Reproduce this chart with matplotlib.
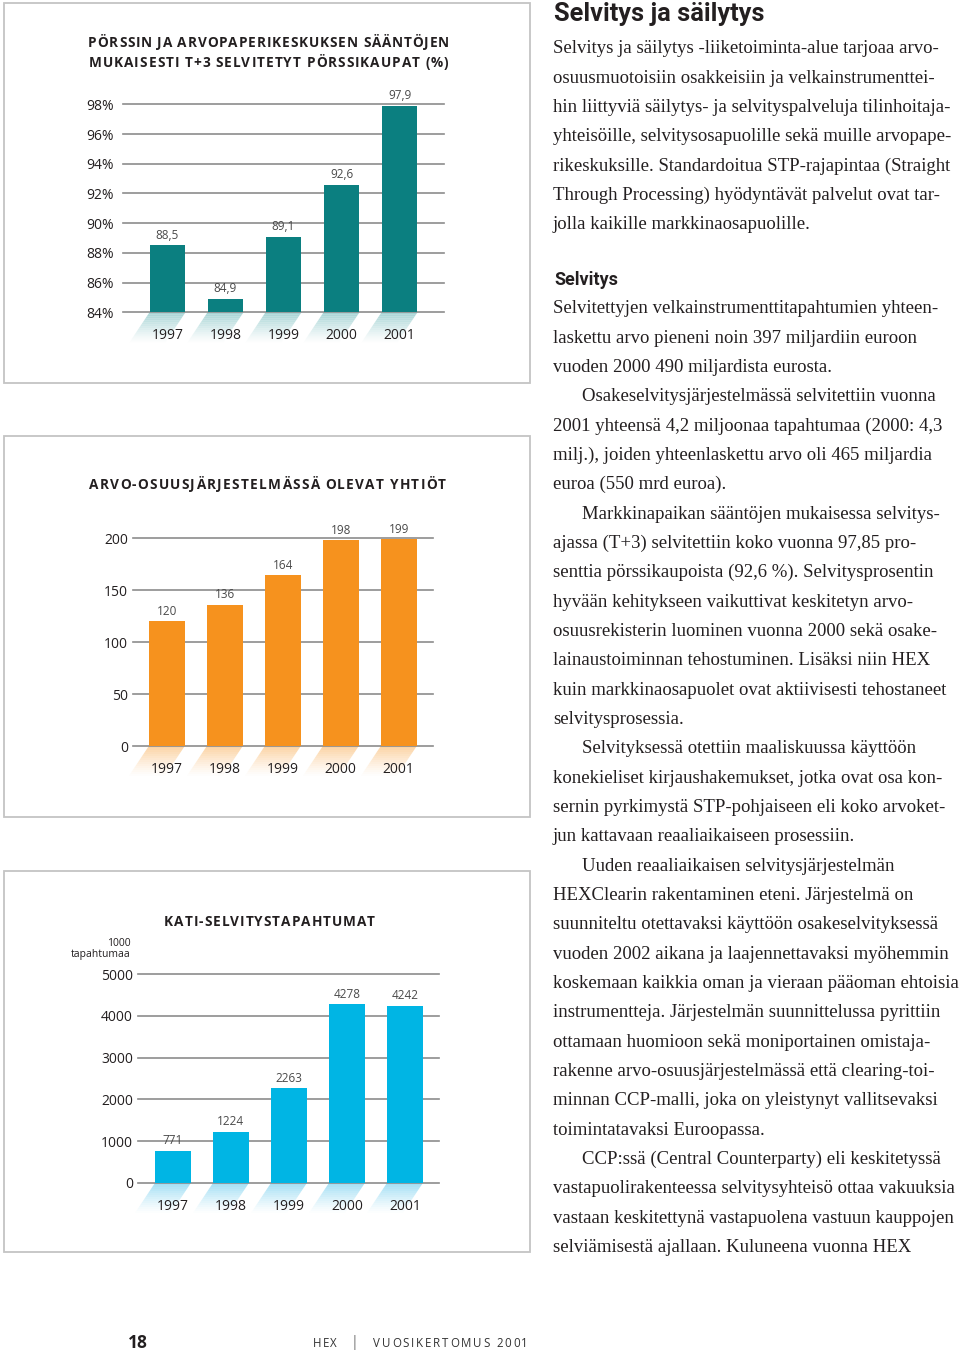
#!/usr/bin/env python3

# sivu 18: kolme pylväskaaviota vasemmalla, leipäteksti oikealla

import numpy as np
import matplotlib
matplotlib.use('Agg')
import matplotlib.pyplot as plt
from matplotlib.patches import Rectangle, Polygon
from matplotlib.font_manager import FontProperties

W, H = 960, 1350

# data
years = ['1997', '1998', '1999', '2000', '2001']

t3_values = [88.5, 84.9, 89.1, 92.6, 97.9]
t3_labels = ['88,5', '84,9', '89,1', '92,6', '97,9']
t3_ticks = [84, 86, 88, 90, 92, 94, 96, 98]
t3_ticklabels = ['84%', '86%', '88%', '90%', '92%', '94%', '96%', '98%']

companies = [120, 136, 164, 198, 199]
companies_labels = ['120', '136', '164', '198', '199']
companies_ticks = [0, 50, 100, 150, 200]

kati = [771, 1224, 2263, 4278, 4242]
kati_labels = ['771', '1224', '2263', '4278', '4242']
kati_ticks = [0, 1000, 2000, 3000, 4000, 5000]

title_1 = ['PÖRSSIN JA ARVOPAPERIKESKUKSEN SÄÄNTÖJEN',
           'MUKAISESTI T+3 SELVITETYT PÖRSSIKAUPAT (%)']
title_2 = 'ARVO-OSUUSJÄRJESTELMÄSSÄ OLEVAT YHTIÖT'
title_3 = 'KATI-SELVITYSTAPAHTUMAT'

heading = 'Selvitys ja säilytys'
intro_lines = [
    'Selvitys ja säilytys -liiketoiminta-alue tarjoaa arvo-',
    'osuusmuotoisiin osakkeisiin ja velkainstrumenttei-',
    'hin liittyviä säilytys- ja selvityspalveluja tilinhoitaja-',
    'yhteisöille, selvitysosapuolille sekä muille arvopape-',
    'rikeskuksille. Standardoitua STP-rajapintaa (Straight',
    'Through Processing) hyödyntävät palvelut ovat tar-',
    'jolla kaikille markkinaosapuolille.',
]
subheading = 'Selvitys'
paragraphs = [
    ['Selvitettyjen velkainstrumenttitapahtumien yhteen-',
     'laskettu arvo pieneni noin 397 miljardiin euroon',
     'vuoden 2000 490 miljardista eurosta.'],
    ['Osakeselvitysjärjestelmässä selvitettiin vuonna',
     '2001 yhteensä 4,2 miljoonaa tapahtumaa (2000: 4,3',
     'milj.), joiden yhteenlaskettu arvo oli 465 miljardia',
     'euroa (550 mrd euroa).'],
    ['Markkinapaikan sääntöjen mukaisessa selvitys-',
     'ajassa (T+3) selvitettiin koko vuonna 97,85 pro-',
     'senttia pörssikaupoista (92,6 %). Selvitysprosentin',
     'hyvään kehitykseen vaikuttivat keskitetyn arvo-',
     'osuusrekisterin luominen vuonna 2000 sekä osake-',
     'lainaustoiminnan tehostuminen. Lisäksi niin HEX',
     'kuin markkinaosapuolet ovat aktiivisesti tehostaneet',
     'selvitysprosessia.'],
    ['Selvityksessä otettiin maaliskuussa käyttöön',
     'konekieliset kirjaushakemukset, jotka ovat osa kon-',
     'sernin pyrkimystä STP-pohjaiseen eli koko arvoket-',
     'jun kattavaan reaaliaikaiseen prosessiin.'],
    ['Uuden reaaliaikaisen selvitysjärjestelmän',
     'HEXClearin rakentaminen eteni. Järjestelmä on',
     'suunniteltu otettavaksi käyttöön osakeselvityksessä',
     'vuoden 2002 aikana ja laajennettavaksi myöhemmin',
     'koskemaan kaikkia oman ja vieraan pääoman ehtoisia',
     'instrumentteja. Järjestelmän suunnittelussa pyrittiin',
     'ottamaan huomioon sekä moniportainen omistaja-',
     'rakenne arvo-osuusjärjestelmässä että clearing-toi-',
     'minnan CCP-malli, joka on yleistynyt vallitsevaksi',
     'toimintatavaksi Euroopassa.'],
    ['CCP:ssä (Central Counterparty) eli keskitetyssä',
     'vastapuolirakenteessa selvitysyhteisö ottaa vakuuksia',
     'vastaan keskitettynä vastapuolena vastuun kauppojen',
     'selviämisestä ajallaan. Kuluneena vuonna HEX'],
]

# colours
TEAL, TEAL_SHADE = '#0b7f80', '#8fc9ca'
ORANGE, ORANGE_SHADE = '#f6921e', '#fbc98e'
CYAN, CYAN_SHADE = '#00b5e4', '#8fd8f2'
GRID = '#8c8c8c'
FRAME = '#c4c4c4'
TXT = '#231f20'

SANS = ['Open Sans', 'DejaVu Sans']
SERIF = ['Liberation Serif', 'DejaVu Serif']

fig = plt.figure(figsize=(W / 100, H / 100), dpi=100)
renderer = fig.canvas.get_renderer()


def px_axes(x0, y0, x1, y1):
    return fig.add_axes([x0 / W, 1 - y1 / H, (x1 - x0) / W, (y1 - y0) / H])


def ftext(x, y, s, **kw):
    return fig.text(x / W, 1 - y / H, s, **kw)


def frame(x0, y0, x1, y1):
    fig.patches.append(Rectangle((x0 / W, 1 - y1 / H), (x1 - x0) / W, (y1 - y0) / H,
                                 transform=fig.transFigure, fill=False,
                                 edgecolor=FRAME, lw=1.3))


def spaced_text(x, y, s, width, size, weight='bold', color=TXT, ha='center'):
    # harvennettu teksti: kirjain kerrallaan, väli venytetään annettuun leveyteen
    prop = FontProperties(family=SANS, size=size, weight=weight)
    base = renderer.get_text_width_height_descent('||', prop, ismath=False)[0]
    adv = [renderer.get_text_width_height_descent('|' + c + '|', prop, ismath=False)[0] - base
           for c in s]
    gap = (width - sum(adv)) / (len(s) - 1)
    pos = x - width / 2 if ha == 'center' else x
    for c, a in zip(s, adv):
        ftext(pos, y, c, ha='left', va='baseline', fontproperties=prop, color=color)
        pos += a + gap


def bar_chart(ax, values, labels, ticks, ticklabels, color, shade, xlim, tick_pad, height_px):
    x = np.arange(len(years))
    ymin, ymax = ticks[0], ticks[-1]
    ax.set_xlim(*xlim)
    ax.set_ylim(ymin, ymax)
    for t in ticks:
        ax.axhline(t, color=GRID, lw=1.2, zorder=1, clip_on=False)
    ax.bar(x, np.array(values) - ymin, bottom=ymin, width=0.62, color=color, zorder=3)

    ax.set_yticks(ticks, ticklabels)
    ax.tick_params(axis='y', length=0, pad=tick_pad, labelsize=10, labelcolor=TXT)
    for lab in ax.get_yticklabels():
        lab.set_family(SANS)
    ax.set_xticks([])
    for s in ax.spines.values():
        s.set_visible(False)
    ax.patch.set_alpha(0)

    # arvot pylväiden päällä
    for xi, v, lab in zip(x, values, labels):
        ax.annotate(lab, (xi, v), xytext=(0, 2.5), textcoords='offset points',
                    ha='center', va='bottom', fontsize=8.5, color='#4a4a4a', family=SANS)

    # vinot varjot pylväiden alla + vuosiluvut
    unit = (ymax - ymin) / height_px
    depth, shift, n = 30, 20 / 58, 15
    for xi, yr in zip(x, years):
        for k in range(n):
            d0, d1 = k / n, (k + 1) / n
            pts = [(xi - 0.31 - shift * d0, ymin - depth * d0 * unit),
                   (xi + 0.31 - shift * d0, ymin - depth * d0 * unit),
                   (xi + 0.31 - shift * d1, ymin - depth * d1 * unit),
                   (xi - 0.31 - shift * d1, ymin - depth * d1 * unit)]
            ax.add_patch(Polygon(pts, closed=True, color=shade, lw=0,
                                 alpha=0.8 * (1 - d0) ** 1.3, clip_on=False, zorder=0))
        ax.annotate(yr, (xi, ymin), xytext=(0, -16.6), textcoords='offset points',
                    ha='center', va='center', fontsize=10, color=TXT, family=SANS)


# ---- kaavio 1 ----
frame(4, 3, 530, 383)
spaced_text(268.5, 47, title_1[0], 361, 9.8)
spaced_text(268.5, 67, title_1[1], 360, 9.8)
ax1 = px_axes(123, 104.3, 444, 312.3)
bar_chart(ax1, t3_values, t3_labels, t3_ticks, t3_ticklabels, TEAL, TEAL_SHADE,
          (-0.767, 4.767), 6.5, 208)

# ---- kaavio 2 ----
frame(4, 436, 530, 817)
spaced_text(267.5, 489, title_2, 357, 9.8)
ax2 = px_axes(133, 538, 433, 746)
bar_chart(ax2, companies, companies_labels, companies_ticks,
          [str(t) for t in companies_ticks], ORANGE, ORANGE_SHADE,
          (-0.583, 4.590), 3.6, 208)

# ---- kaavio 3 ----
frame(4, 871, 530, 1252)
spaced_text(269.5, 926, title_3, 211, 9.8)
ftext(131, 943, '1000', ha='right', va='center', fontsize=7.5, color=TXT, family=SANS)
ftext(131, 954, 'tapahtumaa', ha='right', va='center', fontsize=7.5, color=TXT, family=SANS)
ax3 = px_axes(138, 974, 439, 1183)
bar_chart(ax3, kati, kati_labels, kati_ticks, [str(t) for t in kati_ticks],
          CYAN, CYAN_SHADE, (-0.602, 4.588), 3.6, 209)

# ---- teksti ----
ftext(554, 21, heading, ha='left', va='baseline', fontsize=18.3,
      fontweight='bold', color=TXT, family=['Roboto', 'DejaVu Sans'])
LEAD = 29.33
for k, line in enumerate(intro_lines):
    ftext(553, 53.3 + LEAD * k, line, ha='left', va='baseline', fontsize=13.5,
          color=TXT, family=SERIF)

ftext(554, 285, subheading, ha='left', va='baseline', fontsize=13,
      fontweight='bold', color=TXT, family=['Roboto', 'DejaVu Sans'])
k = 0
for p, para in enumerate(paragraphs):
    for j, line in enumerate(para):
        x = 582 if (p > 0 and j == 0) else 553
        ftext(x, 313.3 + LEAD * k, line, ha='left', va='baseline', fontsize=13.5,
              color=TXT, family=SERIF)
        k += 1

# ---- alatunniste ----
ftext(128, 1343, '18', ha='left', va='center', fontsize=12.5, fontweight='bold',
      color=TXT, family=SANS)
spaced_text(313, 1347, 'HEX', 24, 8.3, weight='normal', color='#333333', ha='left')
ftext(355, 1342, '|', ha='center', va='center', fontsize=10, color='#777777', family=SANS)
spaced_text(373, 1347, 'VUOSIKERTOMUS 2001', 155, 8.3, weight='normal',
            color='#333333', ha='left')

fig.savefig('out.png', dpi=100, facecolor='white')
